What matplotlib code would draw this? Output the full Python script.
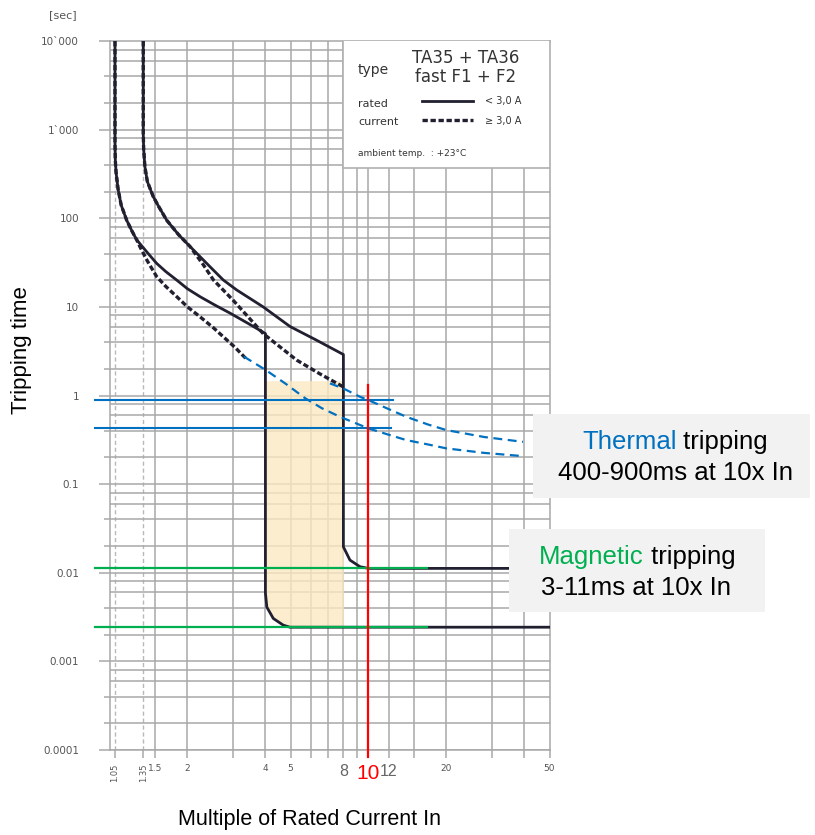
import numpy as np
import matplotlib.pyplot as plt
from matplotlib.patches import Rectangle
from matplotlib.ticker import NullFormatter

# --- Tripping curves (x = multiple of In, y = seconds) ---
# rated current < 3,0 A (solid), lower limit
lo_solid_x = [1.05, 1.05, 1.053, 1.06, 1.08, 1.11, 1.165, 1.22, 1.274, 1.40, 1.52, 1.65, 1.82, 2.0, 2.24,
              2.55, 2.92, 3.4, 4.0,
              4.0, 4.05, 4.29, 4.69, 4.98, 50]
lo_solid_y = [10000, 700, 450, 330, 210, 140, 95, 72, 57, 41, 31, 25, 20, 16, 13,
              10.5, 8.5, 6.6, 5.0,
              0.0059, 0.0041, 0.00305, 0.00256, 0.00243, 0.00243]

# rated current < 3,0 A (solid), upper limit
hi_solid_x = [1.35, 1.35, 1.355, 1.37, 1.40, 1.44, 1.476, 1.55, 1.663, 1.85, 2.046, 2.443, 2.75, 3.1,
              3.92, 4.98, 6.31, 8.0,
              8.0, 8.48, 9.27, 10.0, 50]
hi_solid_y = [10000, 900, 600, 380, 260, 210, 175, 135, 95, 65, 48, 28.4, 20.1, 15.5,
              10.0, 6.0, 4.2, 2.9,
              0.0196, 0.0139, 0.0117, 0.0112, 0.0112]

# rated current >= 3,0 A (dashed)
lo_dash_x = [1.05, 1.05, 1.053, 1.06, 1.08, 1.11, 1.165, 1.22, 1.274, 1.311, 1.40, 1.52, 1.65, 1.82,
             2.0, 2.24, 2.52, 2.75, 3.05, 3.39]
lo_dash_y = [10000, 700, 450, 330, 210, 140, 95, 72, 57, 47.7, 33, 22, 17, 13,
             10, 7.7, 5.8, 4.6, 3.5, 2.55]
hi_dash_x = [1.35, 1.35, 1.355, 1.37, 1.40, 1.44, 1.476, 1.55, 1.663, 1.85, 2.046, 2.3, 2.52, 3.0,
             3.92, 5.28, 6.5, 8.0]
hi_dash_y = [10000, 900, 600, 380, 260, 210, 175, 135, 95, 65, 48, 30, 20.1, 11.9,
             5.0, 2.51, 1.75, 1.25]

# extrapolated thermal curves (blue dashed)
th_hi_x = [7.1, 8.0, 9.27, 10, 12, 14.0, 17, 20, 28, 39.5]
th_hi_y = [1.37, 1.2, 0.967, 0.887, 0.70, 0.575, 0.47, 0.407, 0.34, 0.30]
th_lo_x = [3.3, 4.0, 4.8, 5.7, 6.6, 7.76, 10, 12, 14.0, 17, 20, 28, 39.5]
th_lo_y = [2.75, 1.95, 1.35, 0.93, 0.72, 0.575, 0.425, 0.36, 0.314, 0.28, 0.253, 0.225, 0.207]

# reading lines at 10x In
thermal_t = [0.887, 0.425]
magnetic_t = [0.0112, 0.00243]
shade_top = 1.47

xtick_pos = [1.05, 1.35, 1.5, 2, 4, 5, 8, 10, 12, 20, 50]
xtick_lab = ['1.05', '1.35', '1.5', '2', '4', '5', '8', '10', '12', '20', '50']
ytick_pos = [1e-4, 1e-3, 1e-2, 1e-1, 1, 10, 100, 1000, 10000]
ytick_lab = ['0.0001', '0.001', '0.01', '0.1', '1', '10', '100', '1`000', '10`000']

GRID = '#a8a8a8'
INK = '#202030'
BLUE = '#0070C0'
GREEN = '#00B050'
RED = '#FF0000'

W, H = 815, 835
fig = plt.figure(figsize=(W / 100, H / 100), dpi=100)
ax = fig.add_axes([109.5 / W, 1 - 750 / H, 440 / W, 709 / H])
ax.set_xscale('log')
ax.set_yscale('log')
ax.set_xlim(1, 50)
ax.set_ylim(1e-4, 1e4)

# --- paper grid ---
for gx in [1.5, 2, 3, 4, 5, 6, 7, 8, 9, 10, 12, 15, 20, 30, 40]:
    ax.axvline(gx, color=GRID, lw=1.1, zorder=1)
for gx in [1.05, 1.35]:
    ax.axvline(gx, color='#b8b8b8', lw=1.0, ls=(0, (3, 2)), zorder=1)
for k in range(-4, 4):
    for m in (1, 2, 4, 6, 8):
        ax.axhline(m * 10.0 ** k, color=GRID, lw=1.1, zorder=1)
for s in ax.spines.values():
    s.set_color(GRID)
    s.set_linewidth(1.1)

# --- ticks ---
ax.set_yticks(ytick_pos, labels=ytick_lab)
ax.set_yticks([m * 10.0 ** k for k in range(-4, 4) for m in (2, 4)], minor=True)
ax.yaxis.set_minor_formatter(NullFormatter())
ax.tick_params(axis='y', which='major', length=8, width=1.1, color=GRID, pad=14,
               labelsize=7.5, labelcolor='#555555')
ax.tick_params(axis='y', which='minor', length=4, width=1.1, color=GRID)

ax.set_xticks(xtick_pos, labels=xtick_lab)
ax.set_xticks([3, 6, 7, 9, 15, 30, 40], minor=True)
ax.xaxis.set_minor_formatter(NullFormatter())
ax.tick_params(axis='x', which='both', length=6, width=1.1, color=GRID, pad=4,
               labelsize=6.5, labelcolor='#555555')
for lab in ax.get_xticklabels():
    t = lab.get_text()
    if t in ('1.05', '1.35'):
        lab.set_rotation(90)
        lab.set_fontsize(6)
    elif t in ('8', '12'):
        lab.set_fontsize(11.5)
        lab.set_family('Liberation Sans')
        lab.set_color('#666666')
    elif t == '10':
        lab.set_fontsize(15)
        lab.set_family('Liberation Sans')
        lab.set_color(RED)

fig.text(63 / W, 1 - 15 / H, '[sec]', fontsize=8, color='#555555', ha='center', va='center')

# --- shaded magnetic band between 4x and 8x ---
shade_x = lo_solid_x[19:24] + [8.0]
shade_y = lo_solid_y[19:24] + [lo_solid_y[23]]
ax.fill_between(shade_x, shade_y, shade_top, color='#FBE9C2', alpha=0.8, lw=0, zorder=1.5)

# --- tripping curves ---
ax.plot(lo_solid_x, lo_solid_y, color=INK, lw=2.0, zorder=3)
ax.plot(hi_solid_x, hi_solid_y, color=INK, lw=2.0, zorder=3)
ax.plot(lo_dash_x, lo_dash_y, color=INK, lw=2.4, ls=(0, (1.6, 0.8)), zorder=3)
ax.plot(hi_dash_x, hi_dash_y, color=INK, lw=2.4, ls=(0, (1.6, 0.8)), zorder=3)
ax.plot(th_hi_x, th_hi_y, color=BLUE, lw=1.6, ls=(0, (4, 2.5)), zorder=4)
ax.plot(th_lo_x, th_lo_y, color=BLUE, lw=1.6, ls=(0, (4, 2.5)), zorder=4)

# --- reading lines ---
ax.plot([0.879, 12.43], [thermal_t[0]] * 2, color=BLUE, lw=1.5, zorder=4, clip_on=False)
ax.plot([0.879, 12.2], [thermal_t[1]] * 2, color=BLUE, lw=1.5, zorder=4, clip_on=False)
for tm in magnetic_t:
    ax.plot([0.879, 16.8], [tm, tm], color=GREEN, lw=1.6, zorder=4, clip_on=False)
ax.plot([10, 10], [1.31, 8.3e-5], color=RED, lw=1.6, zorder=5, clip_on=False)

# --- datasheet legend box ---
def axp(px, py):
    return (px - 109.5) / 440, (750 - py) / 709

x0, y0 = axp(343.3, 168)
x1, y1 = axp(550, 40)
ax.add_patch(Rectangle((x0, y0), x1 - x0, y1 - y0, transform=ax.transAxes,
                       facecolor='white', edgecolor='#b0b0b0', lw=1.2, zorder=6))
tkw = dict(transform=ax.transAxes, color='#333333', zorder=7, va='center')
ax.text(*axp(358, 70), 'type', fontsize=10, ha='left', **tkw)
ax.text(*axp(466, 58), 'TA35 + TA36', fontsize=12, ha='center', **tkw)
ax.text(*axp(466, 77), 'fast F1 + F2', fontsize=12, ha='center', **tkw)
ax.text(*axp(358, 104), 'rated', fontsize=8, ha='left', **tkw)
ax.text(*axp(358, 122), 'current', fontsize=8, ha='left', **tkw)
ax.text(*axp(485, 101), '< 3,0 A', fontsize=7, ha='left', **tkw)
ax.text(*axp(485, 121), '\u2265 3,0 A', fontsize=7, ha='left', **tkw)
ax.text(*axp(358, 153), 'ambient temp.  : +23\u00b0C', fontsize=6.5, ha='left', **tkw)
lx0, ly = axp(422, 101)
lx1, _ = axp(473, 101)
ax.plot([lx0, lx1], [ly, ly], transform=ax.transAxes, color=INK, lw=2.0, zorder=7)
_, ly2 = axp(422, 120)
ax.plot([lx0, lx1], [ly2, ly2], transform=ax.transAxes, color=INK, lw=2.4,
        ls=(0, (1.6, 0.8)), zorder=7)

# --- annotation boxes ---
FONT = 'Liberation Sans'
renderer = fig.canvas.get_renderer()


def text_width(s, size):
    t = fig.text(0, 0, s, fontsize=size, family=FONT)
    w = t.get_window_extent(renderer).width
    t.remove()
    return w


def two_tone(cx, cy, first, rest, color, size):
    total = text_width(first + rest, size)
    w1 = text_width(first, size)
    left = cx - total / 2
    fig.text(left / W, 1 - cy / H, first, color=color, fontsize=size, family=FONT,
             ha='left', va='center', zorder=11)
    fig.text((left + w1) / W, 1 - cy / H, rest, color='black', fontsize=size, family=FONT,
             ha='left', va='center', zorder=11)


fig.patches.append(Rectangle((533 / W, 1 - 498 / H), 277 / W, 84 / H, transform=fig.transFigure,
                             facecolor='#F2F2F2', edgecolor='none', zorder=10))
two_tone(675, 442, 'Thermal', ' tripping', BLUE, 18.5)
fig.text(675 / W, 1 - 473 / H, '400-900ms at 10x In', fontsize=18.5, family=FONT,
         ha='center', va='center', zorder=11)

fig.patches.append(Rectangle((509 / W, 1 - 612 / H), 256 / W, 83 / H, transform=fig.transFigure,
                             facecolor='#F2F2F2', edgecolor='none', zorder=10))
two_tone(637, 557, 'Magnetic', ' tripping', GREEN, 18.5)
fig.text(636 / W, 1 - 588 / H, '3-11ms at 10x In', fontsize=18.5, family=FONT,
         ha='center', va='center', zorder=11)

# --- axis titles ---
fig.text(22 / W, 1 - 350 / H, 'Tripping time', rotation=90, fontsize=16, family=FONT,
         ha='center', va='center')
fig.text(310 / W, 1 - 820 / H, 'Multiple of Rated Current In', fontsize=15.5, family=FONT,
         ha='center', va='center')

fig.savefig('out.png', dpi=100)
